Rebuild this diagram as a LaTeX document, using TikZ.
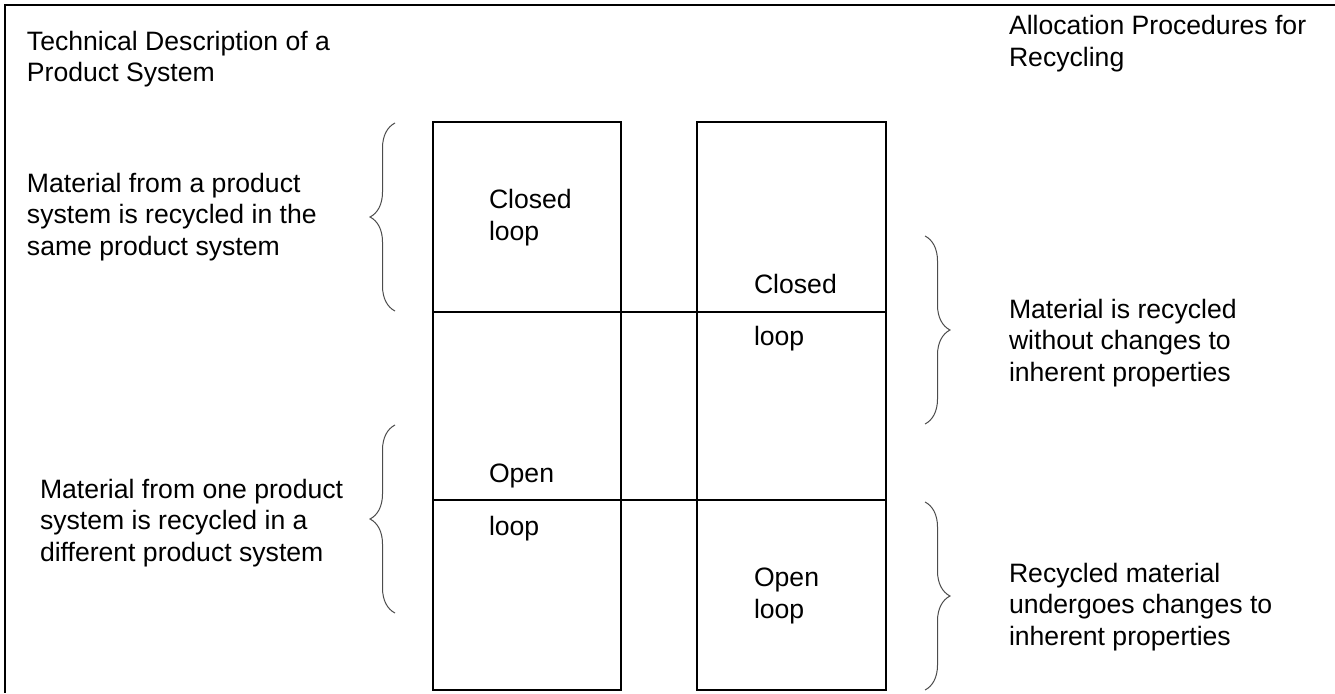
\documentclass[tikz,border=0pt]{standalone}
\usepackage{fontspec}
\setmainfont{Liberation Sans}
\usetikzlibrary{decorations.pathreplacing}
\begin{document}
\begin{tikzpicture}[x=1pt,y=-1pt,
  lbl/.style={anchor=base west, inner sep=0pt, outer sep=0pt, align=left,
    font=\fontsize{26.6}{31.5}\selectfont},
  colbox/.style={draw, line width=2pt, inner sep=0pt, outer sep=0pt,
    minimum width=#1, minimum height=568pt},
  divider/.style={line width=2pt},
  frameline/.style={line width=2pt},
  brc/.style={draw=black!70, line width=1pt, decorate,
    decoration={brace, amplitude=25pt}}
]
\useasboundingbox (0,0) rectangle (1335,693);
% frame (top and left only)
\coordinate (f0) at (1335,5);
\coordinate (f1) at (5,5);
\coordinate (f2) at (5,693);
\draw[frameline] (f0) -- (f1) -- (f2);

% columns
\node[colbox=188pt] (colA) at (527,406) {};
\node[colbox=189pt] (colB) at (791.5,406) {};
\draw[divider] (colA.west |- 0,312) -- (colB.east |- 0,312);
\draw[divider] (colA.west |- 0,500) -- (colB.east |- 0,500);

% headers (anchor = baseline of last line)
\node[lbl] (hL) at (27,81.5) {Technical Description of a\\Product System};
\node[lbl] (hR) at (1009,66.5) {Allocation Procedures for\\Recycling};

% box labels
\node[lbl] (clA) at (489,240) {Closed\\loop};
\node[lbl] (clB1) at (754,293) {Closed};
\node[lbl] (clB2) at (754,345) {loop};
\node[lbl] (olA1) at (489,482) {Open};
\node[lbl] (olA2) at (489,535) {loop};
\node[lbl] (olB) at (754,618) {Open\\loop};

% side texts
\node[lbl] (tL1) at (27,255) {Material from a product\\system is recycled in the\\same product system};
\node[lbl] (tL2) at (40,561) {Material from one product\\system is recycled in a\\different product system};
\node[lbl] (tR1) at (1009,381) {Material is recycled\\without changes to\\inherent properties};
\node[lbl] (tR2) at (1009,645) {Recycled material\\undergoes changes to\\inherent properties};

% braces
\coordinate (bL1a) at (395,311);
\coordinate (bL1b) at (395,123);
\coordinate (bL2a) at (395,613);
\coordinate (bL2b) at (395,425);
\coordinate (bR1a) at (925,236);
\coordinate (bR1b) at (925,424);
\coordinate (bR2a) at (925,502);
\coordinate (bR2b) at (925,690);
\draw[brc] (bL1a) -- (bL1b);
\draw[brc] (bL2a) -- (bL2b);
\draw[brc] (bR1a) -- (bR1b);
\draw[brc] (bR2a) -- (bR2b);
\end{tikzpicture}
\end{document}
